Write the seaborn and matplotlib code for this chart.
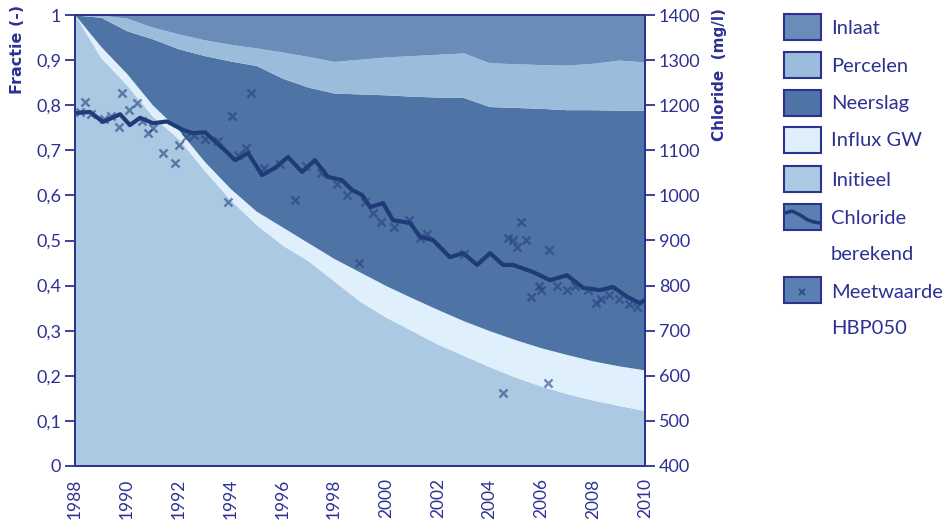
import numpy as np
import pandas as pd
import matplotlib
matplotlib.use("Agg")
import matplotlib.pyplot as plt
from matplotlib.patches import Rectangle
import seaborn as sns

# ---------------- data ----------------
years = [1988, 1989, 1990, 1991, 1992, 1993, 1994, 1995, 1996, 1997, 1998, 1999,
         2000, 2001, 2002, 2003, 2004, 2005, 2006, 2007, 2008, 2009, 2010]
# cumulative upper boundaries of the stacked fractions
initieel_top = [1.00, 0.905, 0.845, 0.775, 0.725, 0.655, 0.59, 0.535, 0.49, 0.455, 0.41, 0.365,
                0.33, 0.30, 0.27, 0.245, 0.22, 0.197, 0.177, 0.16, 0.146, 0.134, 0.123]
influx_top = [1.00, 0.93, 0.87, 0.80, 0.745, 0.675, 0.615, 0.565, 0.53, 0.495, 0.46, 0.43,
              0.40, 0.373, 0.347, 0.322, 0.30, 0.28, 0.262, 0.247, 0.233, 0.222, 0.213]
neerslag_top = [1.00, 0.995, 0.965, 0.947, 0.925, 0.91, 0.898, 0.888, 0.86, 0.84, 0.827, 0.825,
                0.823, 0.82, 0.818, 0.817, 0.797, 0.795, 0.793, 0.79, 0.79, 0.789, 0.789]
percelen_top = [1.00, 1.00, 0.993, 0.973, 0.958, 0.945, 0.935, 0.927, 0.918, 0.908, 0.897, 0.902,
                0.907, 0.91, 0.913, 0.916, 0.894, 0.892, 0.89, 0.889, 0.893, 0.90, 0.896]
inlaat_top = [1.0] * len(years)

# calculated chloride (mg/l)
cl_years = [1988.08, 1988.58, 1989.08, 1989.74, 1990.12, 1990.51, 1991.01, 1991.55, 1992.17,
            1992.55, 1993.02, 1993.48, 1993.79, 1994.18, 1994.68, 1995.22, 1995.72, 1996.22,
            1996.76, 1997.26, 1997.76, 1998.30, 1998.69, 1999.08, 1999.39, 1999.89, 2000.27,
            2000.93, 2001.32, 2001.82, 2002.47, 2002.98, 2003.52, 2004.02, 2004.52, 2004.90,
            2005.68, 2006.33, 2006.99, 2007.61, 2008.26, 2008.77, 2009.31, 2009.81, 2010.0]
cl_values = [1183, 1185, 1163, 1180, 1156, 1172, 1160, 1164, 1145,
             1138, 1140, 1116, 1100, 1078, 1094, 1045, 1061, 1085,
             1052, 1078, 1041, 1034, 1012, 1001, 974, 983, 945,
             939, 908, 901, 863, 872, 846, 872, 846, 846,
             830, 812, 823, 795, 790, 797, 775, 761, 768]

# measurements HBP050 (mg/l)
meas_years = [1988.2, 1988.4, 1988.6, 1989.1, 1989.4, 1989.7, 1989.8, 1990.1, 1990.4, 1990.6,
              1990.8, 1991.0, 1991.4, 1991.86, 1992.0, 1992.3, 1992.6, 1993.0, 1993.5, 1993.9,
              1994.05, 1994.3, 1994.6, 1994.8, 1995.3, 1995.9, 1996.5, 1996.9, 1997.5, 1998.1,
              1998.5, 1998.96, 1999.2, 1999.5, 1999.8, 2000.3, 2000.9, 2001.3, 2001.6, 2003.0,
              2004.5, 2004.7, 2004.9, 2005.06, 2005.2, 2005.4, 2005.6, 2005.9, 2006.0, 2006.26,
              2006.3, 2006.6, 2007.0, 2007.3, 2007.8, 2008.1, 2008.3, 2008.6, 2009.0, 2009.4, 2009.7]
meas_values = [1185, 1207, 1180, 1170, 1175, 1152, 1227, 1190, 1205, 1165,
               1138, 1150, 1094, 1072, 1112, 1130, 1135, 1125, 1120, 985,
               1176, 1090, 1105, 1227, 1060, 1070, 990, 1065, 1050, 1025,
               1000, 850, 985, 960, 940, 930, 945, 905, 915, 870,
               562, 905, 901, 886, 941, 900, 775, 800, 790, 584,
               879, 800, 790, 800, 790, 761, 770, 780, 770, 760, 752]

colors = {"Inlaat": "#6a8cb8", "Percelen": "#9bbcdb", "Neerslag": "#4e74a6",
          "Influx GW": "#dfeffb", "Initieel": "#abc9e3"}
navy = "#2e3192"
line_col = "#1e3b78"

# ---------------- style ----------------
sns.set_style("white")
plt.rcParams["font.family"] = ["Lato", "DejaVu Sans"]
plt.rcParams["text.color"] = navy
plt.rcParams["axes.labelcolor"] = navy
plt.rcParams["xtick.color"] = navy
plt.rcParams["ytick.color"] = navy

fig = plt.figure(figsize=(9.52, 5.23), dpi=100)
ax = fig.add_axes([75 / 952, (523 - 466) / 523, 570 / 952, 451 / 523])

df = pd.DataFrame({"year": years, "Initieel": initieel_top, "Influx GW": influx_top,
                   "Neerslag": neerslag_top, "Percelen": percelen_top, "Inlaat": inlaat_top})
order = ["Initieel", "Influx GW", "Neerslag", "Percelen", "Inlaat"]
lower = np.zeros(len(years))
for name in order:
    upper = df[name].to_numpy()
    ax.fill_between(df["year"], lower, upper, color=colors[name], linewidth=0, zorder=1)
    lower = upper

ax.set_xlim(1988, 2010)
ax.set_ylim(0, 1)
ax.set_xticks(range(1988, 2011, 2))
ax.set_xticklabels([str(y) for y in range(1988, 2011, 2)], rotation=90, fontsize=12.5)
ax.set_yticks(np.arange(0, 1.01, 0.1))
ax.set_yticklabels(["0"] + [f"0,{i}" for i in range(1, 10)] + ["1"], fontsize=13)
ax.tick_params(axis="both", direction="out", length=7, width=1.3, color=navy, pad=3)
ax.tick_params(axis="x", pad=2)
for s in ax.spines.values():
    s.set_color(navy)
    s.set_linewidth(1.3)
ax.set_ylabel("Fractie (-)", fontsize=11.5, fontweight="bold", loc="top",
              family=["DejaVu Sans"])
ax.yaxis.set_label_coords(-0.088, 1.022)

ax2 = ax.twinx()
ax2.set_ylim(400, 1400)
sns.lineplot(x=cl_years, y=cl_values, ax=ax2, color=line_col, linewidth=3.0, zorder=4)
sns.scatterplot(x=meas_years, y=meas_values, ax=ax2, marker="x", s=34, color="#24407e",
                alpha=0.6, linewidth=1.7, zorder=5)
ax2.set_xlim(1988, 2010)
ax2.set_yticks(range(400, 1401, 100))
ax2.set_yticklabels([str(v) for v in range(400, 1401, 100)], fontsize=13)
ax2.tick_params(axis="y", direction="out", length=7, width=1.3, color=navy, pad=3)
for s in ax2.spines.values():
    s.set_color(navy)
    s.set_linewidth(1.3)
ax2.set_ylabel("Chloride  (mg/l)", fontsize=11, fontweight="bold", loc="top",
               family=["DejaVu Sans"])
ax2.yaxis.set_label_coords(1.118, 1.016)

# ---------------- legend (drawn manually) ----------------
lax = fig.add_axes([770 / 952, 0, 182 / 952, 1])
lax.set_xlim(770, 952)
lax.set_ylim(523, 0)
lax.axis("off")
fs = 14.5
rows = [("Inlaat", 27), ("Percelen", 65), ("Neerslag", 103), ("Influx GW", 140), ("Initieel", 179)]
for name, yc in rows:
    lax.add_patch(Rectangle((784, yc - 13), 37, 26, facecolor=colors[name], edgecolor=navy, lw=1.5))
    lax.text(831, yc + 1, name, va="center", ha="left", fontsize=fs, color=navy)
# chloride swatch
yc = 217
lax.add_patch(Rectangle((784, yc - 13), 37, 26, facecolor="#5a80b2", edgecolor=navy, lw=1.5))
lax.plot([785, 792, 800, 808, 814, 820], [yc - 4, yc - 6, yc - 2, yc + 3, yc + 5, yc + 6],
         color=line_col, lw=2.5, solid_capstyle="butt")
lax.text(831, yc + 1, "Chloride", va="center", ha="left", fontsize=fs, color=navy)
lax.text(831, 255, "berekend", va="center", ha="left", fontsize=fs, color=navy)
yc = 290
lax.add_patch(Rectangle((784, yc - 13), 37, 26, facecolor="#5a80b2", edgecolor=navy, lw=1.5))
lax.plot([802], [yc + 2], marker="x", ms=4, mew=1.5, color=line_col, alpha=0.7)
lax.text(831, yc + 2, "Meetwaarde", va="center", ha="left", fontsize=fs, color=navy)
lax.text(831, 328, "HBP050", va="center", ha="left", fontsize=fs, color=navy)

fig.savefig("out.png", dpi=100)
